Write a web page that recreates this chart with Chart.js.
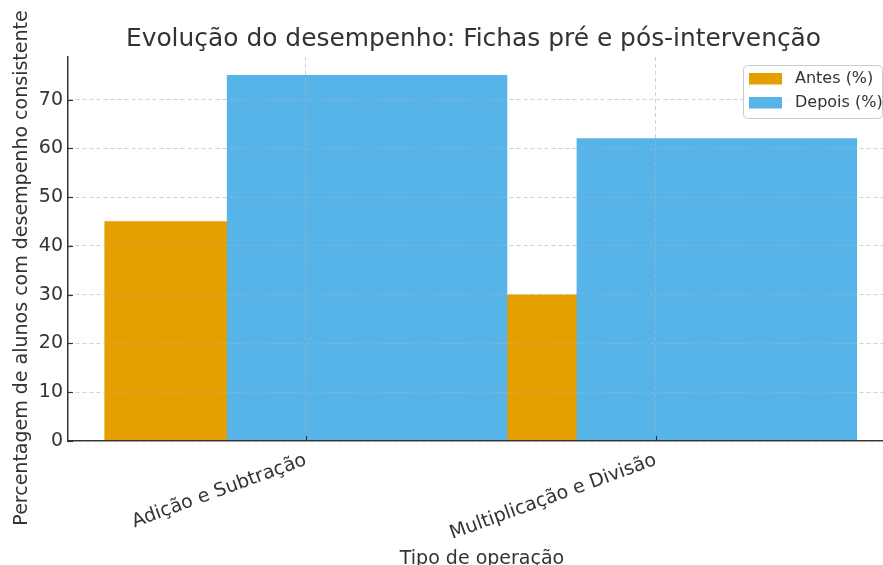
<!DOCTYPE html>
<html lang="pt">
<head>
<meta charset="utf-8">
<title>Evolução do desempenho</title>
<script src="https://cdn.jsdelivr.net/npm/chart.js@4.4.1/dist/chart.umd.min.js"></script>
<style>
    html, body { margin: 0; padding: 0; background: #fff; overflow: hidden; }
    #wrap { width: 883px; height: 565px; }
</style>
</head>
<body>
<div id="wrap"><canvas id="chart" width="883" height="565"></canvas></div>
<script>
// dados
const categories = ['Adição e Subtração', 'Multiplicação e Divisão'];
const antes = [45, 30];
const depois = [75, 62];
const yTicks = [0, 10, 20, 30, 40, 50, 60, 70];
const seriesLabels = ['Antes (%)', 'Depois (%)'];

const chartTitle = 'Evolução do desempenho: Fichas pré e pós-intervenção';
const xTitle = 'Tipo de operação';
const yTitle = 'Percentagem de alunos com desempenho consistente';

// aspeto (à maneira do matplotlib)
const OFFSET = 0.175;
const BAR_WIDTH = 0.8;
const X_MIN = -0.68;
const X_MAX = 1.65;
const Y_MAX = 78.75;
const COLORS = ['#E69F00', '#56B4E9'];
const TEXT = '#333333';
const FONT = 'DejaVu Sans';
const GRID = 'rgba(176, 176, 176, 0.6)';

Chart.defaults.font.family = FONT;
Chart.defaults.color = TEXT;

// título, rótulos dos eixos, marcas interiores e legenda
const decorations = {
    id: 'decorations',
    afterDraw(chart) {
        const { ctx, chartArea, scales: { x, y } } = chart;
        ctx.save();

        ctx.strokeStyle = TEXT;
        ctx.lineWidth = 1.2;
        y.ticks.forEach(t => {
            const py = Math.round(y.getPixelForValue(t.value)) + 0.5;
            ctx.beginPath();
            ctx.moveTo(chartArea.left, py);
            ctx.lineTo(chartArea.left + 5, py);
            ctx.stroke();
        });
        x.ticks.forEach(t => {
            const px = Math.round(x.getPixelForValue(t.value)) + 0.5;
            ctx.beginPath();
            ctx.moveTo(px, chartArea.bottom);
            ctx.lineTo(px, chartArea.bottom - 5);
            ctx.stroke();
        });

        ctx.fillStyle = TEXT;
        ctx.textAlign = 'center';
        ctx.textBaseline = 'alphabetic';
        ctx.font = `24.9px "${FONT}"`;
        ctx.fillText(chartTitle, 473.5, 45.5);

        ctx.font = `19px "${FONT}"`;
        ctx.fillText(xTitle, 482, 564);

        ctx.save();
        ctx.translate(26.5, 268);
        ctx.rotate(-Math.PI / 2);
        ctx.fillText(yTitle, 0, 0);
        ctx.restore();

        // legenda no canto superior direito
        const lw = 139, lh = 53;
        const lx = chartArea.right - lw - 1;
        const ly = chartArea.top + 8;
        ctx.beginPath();
        ctx.roundRect(lx + 0.5, ly + 0.5, lw, lh, 4);
        ctx.fillStyle = 'rgba(255, 255, 255, 0.8)';
        ctx.fill();
        ctx.strokeStyle = '#cccccc';
        ctx.lineWidth = 1;
        ctx.stroke();

        ctx.font = `16px "${FONT}"`;
        ctx.textAlign = 'left';
        ctx.textBaseline = 'middle';
        chart.data.datasets.forEach((ds, i) => {
            const ry = ly + 8 + i * 24;
            ctx.fillStyle = ds.backgroundColor;
            ctx.fillRect(lx + 6, ry, 33, 11.5);
            ctx.fillStyle = TEXT;
            ctx.fillText(ds.label, lx + 52, ry + 6);
        });

        ctx.restore();
    }
};

// grelha e eixos desenhados por cima das barras, como no original
const gridOpts = { color: GRID, lineWidth: 1, drawTicks: false, offset: false, z: 1 };
const borderOpts = { display: true, color: TEXT, width: 1.5, dash: [4, 3], z: 1 };

const chart = new Chart(document.getElementById('chart'), {
    type: 'bar',
    data: {
        datasets: [
            {
                label: seriesLabels[0],
                data: antes.map((v, i) => ({ x: i - OFFSET, y: v })),
                backgroundColor: COLORS[0],
                grouped: false,
                order: 2
            },
            {
                label: seriesLabels[1],
                data: depois.map((v, i) => ({ x: i + OFFSET, y: v })),
                backgroundColor: COLORS[1],
                grouped: false,
                order: 1
            }
        ]
    },
    options: {
        responsive: false,
        animation: false,
        layout: { padding: { top: 57, left: 0, right: 0, bottom: 0 } },
        plugins: {
            legend: { display: false },
            title: { display: false },
            tooltip: { enabled: false }
        },
        scales: {
            x: {
                type: 'linear',
                min: X_MIN,
                max: X_MAX,
                offset: false,
                afterBuildTicks: axis => { axis.ticks = categories.map((c, i) => ({ value: i })); },
                afterFit: axis => { axis.height = 124; },
                ticks: {
                    autoSkip: false,
                    minRotation: 20,
                    maxRotation: 20,
                    padding: 8,
                    color: TEXT,
                    font: { size: 19 },
                    callback: v => categories[v]
                },
                grid: gridOpts,
                border: borderOpts
            },
            y: {
                min: 0,
                max: Y_MAX,
                afterBuildTicks: axis => { axis.ticks = yTicks.map(v => ({ value: v })); },
                afterFit: axis => { axis.width = 68; },
                ticks: { padding: 5, color: TEXT, font: { size: 19 } },
                grid: gridOpts,
                border: borderOpts
            }
        }
    },
    plugins: [decorations]
});

// largura das barras em unidades do eixo x, convertida pela própria escala
const xs = chart.scales.x;
const barPx = xs.getPixelForValue(BAR_WIDTH) - xs.getPixelForValue(0);
chart.data.datasets.forEach(ds => { ds.barThickness = barPx; });
chart.update();
</script>
</body>
</html>
